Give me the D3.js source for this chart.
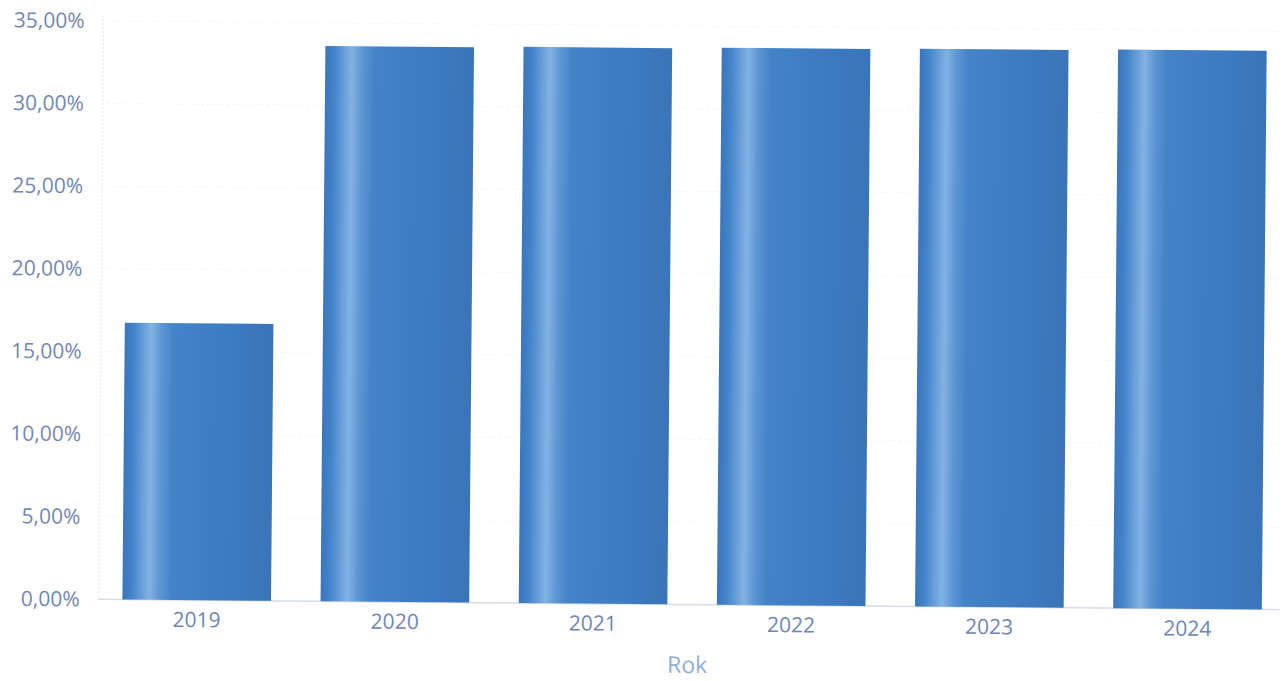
<!DOCTYPE html>
<html>
<head>
<meta charset="utf-8">
<script src="https://cdn.jsdelivr.net/npm/d3@7"></script>
<style>
  html, body { margin: 0; padding: 0; background: #fff; }
  svg { display: block; }
</style>
</head>
<body>
<svg id="chart" width="1286" height="681"></svg>
<script>
// ---- data ----
const years = ["2019", "2020", "2021", "2022", "2023", "2024"];
const shares = [16.75, 33.6, 33.65, 33.7, 33.75, 33.8];
const yTicks = [0, 5, 10, 15, 20, 25, 30, 35];
const xTitle = "Rok";

// ---- layout ----
const svg = d3.select("#chart");
const g = svg.append("g").attr("transform", "rotate(0.5,690,330)");

const x = d3.scaleBand().domain(years).range([100, 1289]).paddingInner(0.25).paddingOuter(0.125);
const y = d3.scaleLinear().domain([0, 35]).range([604.5, 26]);

const fmt = v => d3.format(".2f")(v).replace(".", ",") + "%";
const FONT = "'Open Sans', 'Noto Sans', sans-serif";

// gradient
const defs = svg.append("defs");
const grad = defs.append("linearGradient").attr("id", "barGrad").attr("x1", "0").attr("x2", "1").attr("y1", "0").attr("y2", "0");
[["0%", "#3b76bc"], ["6%", "#4283c9"], ["12%", "#639bd7"], ["18%", "#82b2e3"], ["25%", "#5d95d2"], ["33%", "#4483c8"], ["60%", "#3f7dc2"], ["100%", "#3a74b9"]]
  .forEach(([o, c]) => grad.append("stop").attr("offset", o).attr("stop-color", c));

// gridlines
g.append("g").selectAll("line").data(yTicks).join("line")
  .attr("x1", 100).attr("x2", 1282)
  .attr("y1", d => y(d)).attr("y2", d => y(d))
  .attr("stroke", d => d === 0 ? "#d6dde8" : "#eef2f8")
  .attr("stroke-width", d => d === 0 ? 1.5 : 1)
  .attr("stroke-dasharray", d => d === 0 ? null : "2,3");

// y axis line
g.append("line").attr("x1", 101).attr("x2", 101).attr("y1", y(35) - 6).attr("y2", y(0))
  .attr("stroke", "#e3eaf5").attr("stroke-dasharray", "2,2");

// y axis labels
const yAxis = d3.axisLeft(y).tickValues(yTicks).tickFormat(fmt).tickSize(0).tickPadding(0);
const ya = g.append("g").attr("transform", "translate(82,0)").call(yAxis);
ya.select(".domain").remove();
ya.selectAll("text")
  .attr("fill", "#7387b4")
  .style("font-family", FONT)
  .style("font-size", "21px");

// bars
g.append("g").selectAll("rect").data(years).join("rect")
  .attr("x", d => x(d))
  .attr("width", x.bandwidth())
  .attr("y", (d, i) => y(shares[i]))
  .attr("height", (d, i) => y(0) - y(shares[i]))
  .attr("fill", "url(#barGrad)");

// x axis labels
const xAxis = d3.axisBottom(x).tickSize(0).tickPadding(0);
const xa = g.append("g").attr("transform", "translate(0," + (y(0) + 12) + ")").call(xAxis);
xa.select(".domain").remove();
xa.selectAll("text")
  .attr("dy", "0.71em")
  .attr("fill", "#6f86b6")
  .style("font-family", FONT)
  .style("font-size", "21px");

// x title
g.append("text").attr("x", 690).attr("y", 673)
  .attr("text-anchor", "middle")
  .attr("fill", "#8eaee0")
  .style("font-family", FONT)
  .style("font-size", "23px")
  .text(xTitle);
</script>
</body>
</html>
